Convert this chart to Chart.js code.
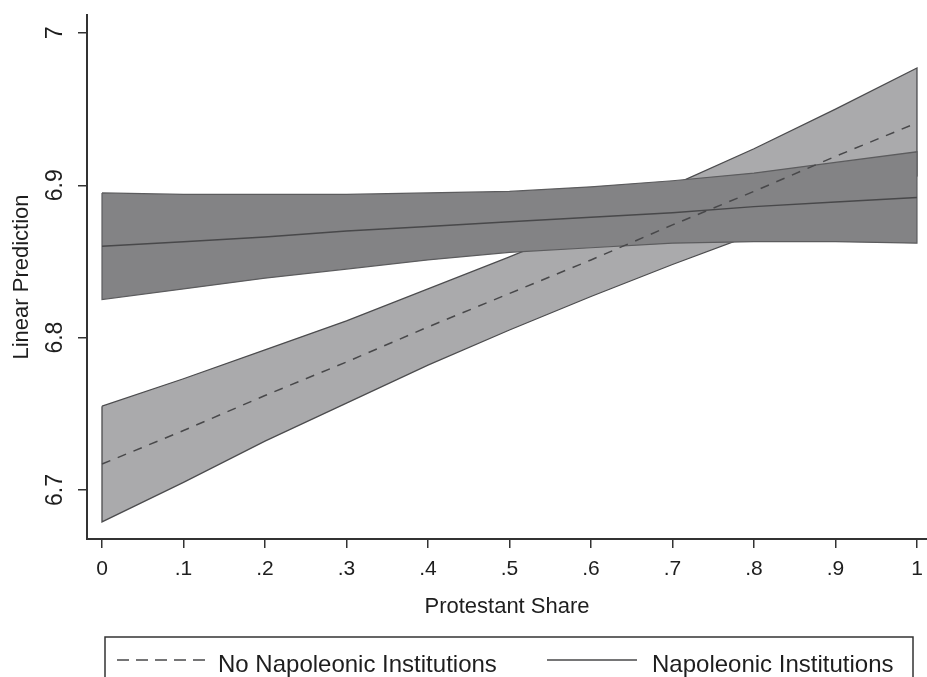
<!DOCTYPE html>
<html>
<head>
<meta charset="utf-8">
<script src="https://cdn.jsdelivr.net/npm/chart.js@4.4.0/dist/chart.umd.min.js"></script>
<style>
  html, body { margin: 0; padding: 0; background: #fff; overflow: hidden; }
  #chart { display: block; }
</style>
</head>
<body>
<canvas id="chart" width="927" height="700"></canvas>
<script>
// --- Data ---
const xValues = [0, 0.1, 0.2, 0.3, 0.4, 0.5, 0.6, 0.7, 0.8, 0.9, 1];

// No Napoleonic Institutions: prediction and 95% band
const noNapFit   = [6.717, 6.739, 6.762, 6.784, 6.807, 6.829, 6.851, 6.874, 6.896, 6.919, 6.941];
const noNapUpper = [6.755, 6.773, 6.792, 6.811, 6.832, 6.853, 6.875, 6.900, 6.924, 6.950, 6.977];
const noNapLower = [6.679, 6.705, 6.732, 6.757, 6.782, 6.805, 6.827, 6.848, 6.868, 6.887, 6.906];

// Napoleonic Institutions: prediction and 95% band
const napFit   = [6.860, 6.863, 6.866, 6.870, 6.873, 6.876, 6.879, 6.882, 6.886, 6.889, 6.892];
const napUpper = [6.895, 6.894, 6.894, 6.894, 6.895, 6.896, 6.899, 6.903, 6.908, 6.915, 6.922];
const napLower = [6.825, 6.832, 6.839, 6.845, 6.851, 6.856, 6.859, 6.862, 6.863, 6.863, 6.862];

const xTickValues = [0, 0.1, 0.2, 0.3, 0.4, 0.5, 0.6, 0.7, 0.8, 0.9, 1];
const xTickLabels = ['0', '.1', '.2', '.3', '.4', '.5', '.6', '.7', '.8', '.9', '1'];
const yTickValues = [6.7, 6.8, 6.9, 7];
const yTickLabels = ['6.7', '6.8', '6.9', '7'];

const FONT = '"Liberation Sans", Arial, Helvetica, sans-serif';
Chart.defaults.font.family = FONT;

// --- helpers ---
function linePoints(ys) {
    return xValues.map((x, i) => ({ x: x, y: ys[i] }));
}
// closed outline: upper left->right, lower right->left
function bandPolygon(upper, lower) {
    const pts = linePoints(upper);
    for (let i = xValues.length - 1; i >= 0; i--) pts.push({ x: xValues[i], y: lower[i] });
    pts.push({ x: xValues[0], y: upper[0] });
    return pts;
}

// legend in a box under the plot, like the Stata one
const boxLegend = {
    id: 'boxLegend',
    afterDraw(chart, args, opts) {
        const ctx = chart.ctx;
        ctx.save();
        ctx.strokeStyle = '#333';
        ctx.lineWidth = 1.5;
        ctx.strokeRect(opts.left, opts.top, opts.right - opts.left, opts.bottom - opts.top);
        ctx.font = '24px ' + FONT;
        ctx.fillStyle = '#1e1e1e';
        ctx.textBaseline = 'middle';
        opts.items.forEach(it => {
            const ds = chart.data.datasets[it.dataset];
            ctx.strokeStyle = ds.borderColor;
            ctx.lineWidth = ds.borderWidth;
            ctx.setLineDash(it.dash || []);
            ctx.beginPath();
            ctx.moveTo(it.x0, opts.lineY);
            ctx.lineTo(it.x1, opts.lineY);
            ctx.stroke();
            ctx.setLineDash([]);
            ctx.fillText(ds.label, it.textX, opts.textY);
        });
        ctx.restore();
    }
};

const ctx = document.getElementById('chart').getContext('2d');

const chart = new Chart(ctx, {
    type: 'scatter',
    data: {
        datasets: [
            {
                label: 'No Napoleonic band',
                data: bandPolygon(noNapUpper, noNapLower),
                showLine: true, fill: 'shape', tension: 0,
                backgroundColor: '#aaaaac', borderColor: '#4c4c4e', borderWidth: 1.3,
                pointRadius: 0, order: 4
            },
            {
                label: 'Napoleonic band',
                data: bandPolygon(napUpper, napLower),
                showLine: true, fill: 'shape', tension: 0,
                backgroundColor: '#838385', borderColor: '#5c5c5e', borderWidth: 1.2,
                pointRadius: 0, order: 3
            },
            {
                label: 'No Napoleonic Institutions',
                data: linePoints(noNapFit),
                showLine: true, fill: false, tension: 0,
                borderColor: '#48484a', borderWidth: 1.5, borderDash: [9, 8],
                pointRadius: 0, order: 2
            },
            {
                label: 'Napoleonic Institutions',
                data: linePoints(napFit),
                showLine: true, fill: false, tension: 0,
                borderColor: '#48484a', borderWidth: 1.5,
                pointRadius: 0, order: 1
            }
        ]
    },
    options: {
        responsive: false,
        animation: false,
        events: [],
        layout: { padding: { top: 15, left: 4, right: 0, bottom: 71 } },
        plugins: {
            legend: { display: false },
            tooltip: { enabled: false },
            boxLegend: {
                left: 105, right: 913, top: 637, bottom: 698,
                lineY: 660, textY: 665,
                items: [
                    { dataset: 2, x0: 117, x1: 205, textX: 218, dash: [12, 7] },
                    { dataset: 3, x0: 547, x1: 637, textX: 652 }
                ]
            }
        },
        scales: {
            x: {
                type: 'linear',
                min: -0.0184, max: 1.0123,
                afterBuildTicks: s => { s.ticks = xTickValues.map(v => ({ value: v })); },
                afterFit: s => { s.height = 90; s.paddingLeft = 0; s.paddingRight = 0; },
                grid: { drawOnChartArea: false, drawTicks: true, tickLength: 9, color: '#333', lineWidth: 1.5 },
                border: { color: '#333', width: 2 },
                ticks: {
                    callback: (v, i) => xTickLabels[i],
                    font: { size: 21 }, color: '#1e1e1e', padding: 9,
                    maxRotation: 0, autoSkip: false
                },
                title: {
                    display: true, text: 'Protestant Share',
                    font: { size: 22 }, color: '#1e1e1e', padding: { top: 0, bottom: 9 }
                }
            },
            y: {
                type: 'linear',
                min: 6.6678, max: 7.0118,
                afterBuildTicks: s => { s.ticks = yTickValues.map(v => ({ value: v })); },
                afterFit: s => { s.width = 83; s.paddingTop = 0; s.paddingBottom = 0; },
                grid: { drawOnChartArea: false, drawTicks: true, tickLength: 9, color: '#333', lineWidth: 1.5 },
                border: { color: '#333', width: 2 },
                ticks: {
                    callback: (v, i) => yTickLabels[i],
                    font: { size: 23 }, color: '#1e1e1e', padding: 6,
                    minRotation: 90, maxRotation: 90, crossAlign: 'center', autoSkip: false
                },
                title: {
                    display: true, text: 'Linear Prediction',
                    font: { size: 22 }, color: '#1e1e1e', padding: { top: 5, bottom: 0 }
                }
            }
        }
    },
    plugins: [boxLegend]
});
</script>
</body>
</html>
